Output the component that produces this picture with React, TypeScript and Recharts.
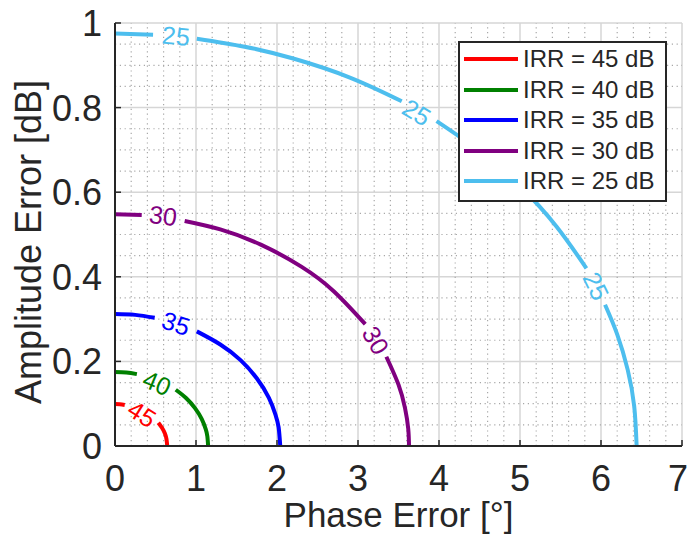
import {
  ComposedChart,
  Line,
  XAxis,
  YAxis,
  CartesianGrid,
  ReferenceLine,
  ReferenceDot,
} from "recharts";

type Pt = { x: number; y: number | null };

const FONT = "'Liberation Sans', Arial, Helvetica, sans-serif";
const INK = "#262626";

// IRR contour levels, in dB, with their colours
const irrLevels = [45, 40, 35, 30, 25];
const curveColors = ["#ff0000", "#008000", "#0000ff", "#800080", "#4dbeee"];

// points; a null marks the gap left for a contour label
const irr45: Pt[] = [
  { x: 0, y: 0.099 },
  { x: 0.06, y: 0.0986 },
  { x: 0.12, y: 0.097 },
  { x: 0.33, y: null },
  { x: 0.535, y: 0.055 },
  { x: 0.58, y: 0.043 },
  { x: 0.615, y: 0.03 },
  { x: 0.635, y: 0.017 },
  { x: 0.645, y: 0 },
];

const irr40: Pt[] = [
  { x: 0, y: 0.175 },
  { x: 0.14, y: 0.174 },
  { x: 0.27, y: 0.17 },
  { x: 0.52, y: null },
  { x: 0.75, y: 0.133 },
  { x: 0.88, y: 0.113 },
  { x: 0.99, y: 0.089 },
  { x: 1.07, y: 0.064 },
  { x: 1.12, y: 0.04 },
  { x: 1.14, y: 0.023 },
  { x: 1.15, y: 0 },
];

const irr35: Pt[] = [
  { x: 0, y: 0.312 },
  { x: 0.25, y: 0.31 },
  { x: 0.49, y: 0.303 },
  { x: 0.75, y: null },
  { x: 1.01, y: 0.271 },
  { x: 1.3, y: 0.24 },
  { x: 1.55, y: 0.203 },
  { x: 1.75, y: 0.16 },
  { x: 1.9, y: 0.114 },
  { x: 1.98, y: 0.075 },
  { x: 2.02, y: 0.044 },
  { x: 2.04, y: 0 },
];

const irr30: Pt[] = [
  { x: 0, y: 0.548 },
  { x: 0.33, y: 0.546 },
  { x: 0.59, y: null },
  { x: 0.86, y: 0.532 },
  { x: 1.3, y: 0.512 },
  { x: 1.8, y: 0.476 },
  { x: 2.3, y: 0.424 },
  { x: 2.7, y: 0.366 },
  { x: 3.09, y: 0.288 },
  { x: 3.22, y: null },
  { x: 3.35, y: 0.211 },
  { x: 3.5, y: 0.145 },
  { x: 3.58, y: 0.09 },
  { x: 3.62, y: 0.041 },
  { x: 3.63, y: 0 },
];

const irr25: Pt[] = [
  { x: 0, y: 0.975 },
  { x: 0.47, y: 0.972 },
  { x: 0.74, y: null },
  { x: 1.01, y: 0.963 },
  { x: 1.6, y: 0.944 },
  { x: 2.2, y: 0.916 },
  { x: 2.9, y: 0.871 },
  { x: 3.54, y: 0.815 },
  { x: 3.74, y: null },
  { x: 3.97, y: 0.768 },
  { x: 4.5, y: 0.697 },
  { x: 5.0, y: 0.614 },
  { x: 5.45, y: 0.519 },
  { x: 5.82, y: 0.42 },
  { x: 5.94, y: null },
  { x: 6.05, y: 0.334 },
  { x: 6.2, y: 0.264 },
  { x: 6.33, y: 0.18 },
  { x: 6.41, y: 0.094 },
  { x: 6.44, y: 0 },
];

const curves = [irr45, irr40, irr35, irr30, irr25];

// inline contour labels (level, where it sits, and its tilt along the curve)
const contourLabels = [
  { level: 45, x: 0.333, y: 0.076, angle: 32 },
  { level: 40, x: 0.52, y: 0.149, angle: 23 },
  { level: 35, x: 0.753, y: 0.29, angle: 18 },
  { level: 30, x: 0.593, y: 0.545, angle: 7 },
  { level: 30, x: 3.22, y: 0.25, angle: 60 },
  { level: 25, x: 0.753, y: 0.97, angle: 5 },
  { level: 25, x: 3.725, y: 0.789, angle: 31 },
  { level: 25, x: 5.94, y: 0.378, angle: 64 },
];

const xTicks = [0, 1, 2, 3, 4, 5, 6, 7];
const yTicks = [0, 0.2, 0.4, 0.6, 0.8, 1];
const yTickLabels = ["0", "0.2", "0.4", "0.6", "0.8", "1"];

const xMinor: number[] = [];
for (let i = 1; i < 35; i++) if (i % 5 !== 0) xMinor.push(i * 0.2);
const yMinor: number[] = [];
for (let i = 1; i < 20; i++) if (i % 4 !== 0) yMinor.push(i * 0.05);

const colorOf = (level: number) => curveColors[irrLevels.indexOf(level)];

const BottomTick = ({ x, y, payload }: any) => (
  <g>
    <line x1={x} y1={y} x2={x} y2={y - 6} stroke={INK} strokeWidth={1.5} />
    <text
      x={payload.value === 7 ? x - 4 : x}
      y={y + 45}
      textAnchor="middle"
      fontSize={36}
      fontFamily={FONT}
      fill={INK}
    >
      {payload.value}
    </text>
  </g>
);

const TopTick = ({ x, y }: any) => (
  <line x1={x} y1={y} x2={x} y2={y + 6} stroke={INK} strokeWidth={1.5} />
);

const LeftTick = ({ x, y, payload }: any) => (
  <g>
    <line x1={x} y1={y} x2={x + 6} y2={y} stroke={INK} strokeWidth={1.5} />
    <text x={x - 13} y={y + 13} textAnchor="end" fontSize={36} fontFamily={FONT} fill={INK}>
      {yTickLabels[yTicks.indexOf(payload.value)] ?? payload.value}
    </text>
  </g>
);

const RightTick = ({ x, y }: any) => (
  <line x1={x} y1={y} x2={x - 6} y2={y} stroke={INK} strokeWidth={1.5} />
);

const XTitle = ({ viewBox }: any) => (
  <text
    x={viewBox.x + viewBox.width / 2}
    y={viewBox.y + 81}
    textAnchor="middle"
    fontSize={35}
    fontFamily={FONT}
    fill={INK}
  >
    Phase Error [°]
  </text>
);

const YTitle = () => (
  <text
    x={41}
    y={242}
    transform="rotate(-90 41 242)"
    textAnchor="middle"
    fontSize={36}
    fontFamily={FONT}
    fill={INK}
  >
    Amplitude Error [dB]
  </text>
);

const ContourText = ({ cx, cy, text, angle, color }: any) => (
  <text
    x={cx}
    y={cy}
    transform={`rotate(${angle} ${cx} ${cy})`}
    textAnchor="middle"
    dominantBaseline="central"
    fontSize={25}
    fontFamily={FONT}
    fill={color}
  >
    {text}
  </text>
);

export default function App() {
  return (
    <div style={{ position: "absolute", left: 0, top: 0, width: 689, height: 540, background: "#fff" }}>
      <ComposedChart
        width={689}
        height={540}
        margin={{ top: 23, right: 7, bottom: 14, left: 15 }}
      >
        <CartesianGrid stroke="#d6d6d6" strokeWidth={1.5} />
        {xMinor.map((v) => (
          <ReferenceLine
            key={"vx" + v}
            x={v}
            stroke="#a8a8a8"
            strokeWidth={1.2}
            strokeDasharray="1.2 3.6"
          />
        ))}
        {yMinor.map((v) => (
          <ReferenceLine
            key={"hy" + v}
            y={v}
            stroke="#a8a8a8"
            strokeWidth={1.2}
            strokeDasharray="1.2 3.6"
          />
        ))}
        <XAxis
          dataKey="x"
          type="number"
          domain={[0, 7]}
          ticks={xTicks}
          interval={0}
          allowDataOverflow
          height={80}
          tickSize={0}
          tickMargin={0}
          tickLine={false}
          axisLine={{ stroke: INK, strokeWidth: 2 }}
          tick={(p: any) => <BottomTick {...p} />}
          label={(p: any) => <XTitle {...p} />}
        />
        <XAxis
          xAxisId="top"
          orientation="top"
          type="number"
          domain={[0, 7]}
          ticks={xTicks}
          interval={0}
          allowDataOverflow
          height={0}
          tickSize={0}
          tickMargin={0}
          tickLine={false}
          axisLine={{ stroke: INK, strokeWidth: 2 }}
          tick={(p: any) => <TopTick {...p} />}
        />
        <YAxis
          type="number"
          domain={[0, 1]}
          ticks={yTicks}
          interval={0}
          allowDataOverflow
          width={100}
          tickSize={0}
          tickMargin={0}
          tickLine={false}
          axisLine={{ stroke: INK, strokeWidth: 2 }}
          tick={(p: any) => <LeftTick {...p} />}
          label={() => <YTitle />}
        />
        <YAxis
          yAxisId="right"
          orientation="right"
          type="number"
          domain={[0, 1]}
          ticks={yTicks}
          interval={0}
          allowDataOverflow
          width={0}
          tickSize={0}
          tickMargin={0}
          tickLine={false}
          axisLine={{ stroke: INK, strokeWidth: 2 }}
          tick={(p: any) => <RightTick {...p} />}
        />
        {curves.map((data, i) => (
          <Line
            key={irrLevels[i]}
            data={data}
            dataKey="y"
            type="natural"
            stroke={curveColors[i]}
            strokeWidth={4}
            dot={false}
            activeDot={false}
            connectNulls={false}
            isAnimationActive={false}
          />
        ))}
        {contourLabels.map((l, i) => (
          <ReferenceDot
            key={"lab" + i}
            x={l.x}
            y={l.y}
            r={0}
            shape={(p: any) => (
              <ContourText
                cx={p.cx}
                cy={p.cy}
                text={String(l.level)}
                angle={l.angle}
                color={colorOf(l.level)}
              />
            )}
          />
        ))}
      </ComposedChart>
      <div
        style={{
          position: "absolute",
          left: 458,
          top: 41,
          width: 205,
          height: 157,
          border: `2px solid ${INK}`,
          background: "#fff",
          fontFamily: FONT,
          fontSize: 24,
          color: INK,
        }}
      >
        {irrLevels.map((lv, i) => (
          <div
            key={lv}
            style={{
              position: "absolute",
              left: 0,
              top: 1 + i * 30.6,
              height: 30,
              display: "flex",
              alignItems: "center",
              whiteSpace: "nowrap",
            }}
          >
            <span
              style={{
                display: "inline-block",
                marginLeft: 4,
                width: 54,
                height: 4,
                background: curveColors[i],
              }}
            />
            <span style={{ marginLeft: 5 }}>IRR = {lv} dB</span>
          </div>
        ))}
      </div>
    </div>
  );
}
